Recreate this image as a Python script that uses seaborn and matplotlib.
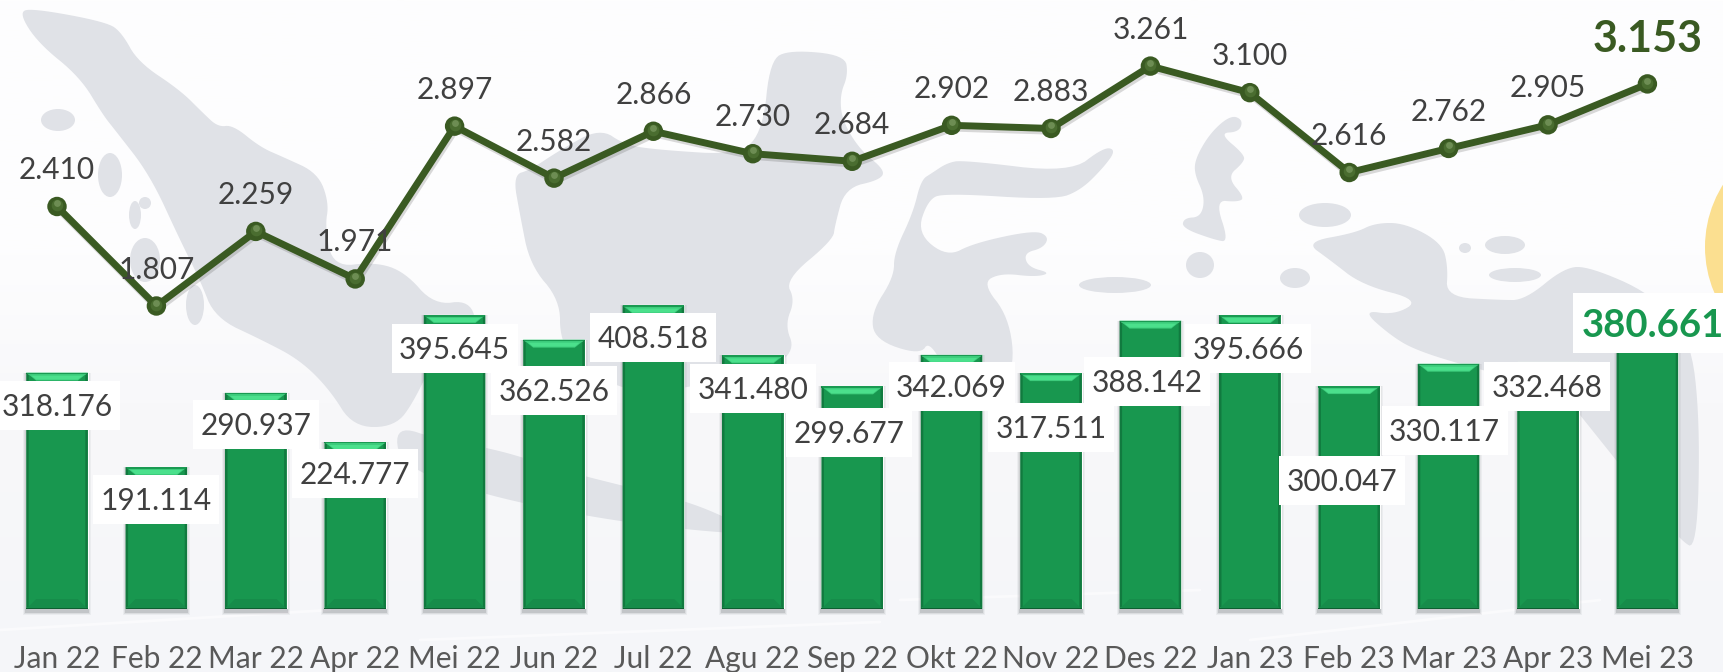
# Monthly bars with a line on top, over a pale map background

import numpy as np
import pandas as pd
import seaborn as sns
import matplotlib.pyplot as plt
from matplotlib.colors import LinearSegmentedColormap
from matplotlib.patches import Polygon, Circle, Rectangle, Ellipse
import matplotlib.patheffects as pe

months = ['Jan 22', 'Feb 22', 'Mar 22', 'Apr 22', 'Mei 22', 'Jun 22', 'Jul 22', 'Agu 22', 'Sep 22',
          'Okt 22', 'Nov 22', 'Des 22', 'Jan 23', 'Feb 23', 'Mar 23', 'Apr 23', 'Mei 23']
barValues = [318176, 191114, 290937, 224777, 395645, 362526, 408518, 341480, 299677,
             342069, 317511, 388142, 395666, 300047, 330117, 332468, 380661]
lineValues = [2410, 1807, 2259, 1971, 2897, 2582, 2866, 2730, 2684,
              2902, 2883, 3261, 3100, 2616, 2762, 2905, 3153]

# label shifts from the bar top, in pixels
barLabelDown = [33, 32, 32, 32, 33, 51, 32, 33, 46, 32, 54, 61, 33, 94, 67, 25, -3]
barLabelRight = [0, 0, 0, 0, 0, 0, 0, 0, -3, 0, 0, -3, -2, -7, -4, -1, 5]

# background shapes, in pixels of the picture
sumatra = [(19,13),(31,8),(107,22),(122,33),(138,62),(180,90),(203,113),(218,127),(233,125),(260,147),(283,157),
           (318,173),(329,203),(325,227),(333,267),(375,262),(405,272),(434,305),(470,300),(478,330),(440,345),(415,400),
           (395,427),(353,427),(330,390),(300,360),(262,340),(215,318),(200,280),(180,240),(150,175),(115,130),
           (103,115),(80,77),(38,43)]
java = [(395,425),(440,440),(500,450),(560,470),(640,490),(700,505),(760,535),(690,530),(610,520),(530,505),(470,490),(400,465)]
kalimantan = [(513,175),(530,170),(560,150),(600,128),(625,145),(660,150),(740,155),(763,130),(770,60),(790,50),(845,55),
              (848,75),(840,95),(842,120),(860,150),(885,170),(880,180),(845,188),(835,225),(833,240),(785,280),(795,300),(785,325),
              (795,350),(770,370),(700,385),(640,395),(580,370),(560,340),(560,300),(530,265),(520,215)]
sulawesi = [(947,163),(963,160),(1070,173),(1104,147),(1116,150),(1104,167),(1081,190),(1055,200),(944,193),(928,200),(917,233),
            (947,257),(974,243),(1035,230),(1049,237),(1043,248),(1024,253),(1028,267),(1051,273),(1035,277),(1001,273),(982,283),
            (1009,317),(1015,370),(990,405),(955,390),(930,340),(920,355),(875,340),(871,313),(894,277),(894,253),(913,213),(921,180),(932,173)]
halmahera = [(1231,115),(1243,120),(1239,132),(1219,133),(1245,155),(1243,163),(1227,177),(1245,198),(1237,202),(1215,200),
             (1229,242),(1215,240),(1182,228),(1184,218),(1201,217),(1205,197),(1194,173),(1196,157),(1211,132)]
papua = [(1305,242),(1355,233),(1375,223),(1405,223),(1442,243),(1448,267),(1446,297),(1500,300),(1525,300),(1565,267),(1590,267),
         (1650,293),(1690,335),(1700,420),(1697,550),(1680,540),(1640,490),(1600,440),(1560,390),(1470,367),(1415,350),(1390,335),
         (1362,310),(1395,315),(1420,300),(1362,285),(1330,260)]
islands = [(1325,215,26,12),(1200,265,14,13),(1295,278,15,10),(1465,248,6,5),(1505,245,20,9),(1515,275,26,7),
           (58,120,17,11),(110,175,12,22),(135,215,6,14),(145,203,6,6),(145,260,15,22),(195,305,9,20),(1115,285,36,8)]

sns.set_theme(style='white', rc={'axes.facecolor': 'none', 'figure.facecolor': 'white'})
plt.rcParams['font.family'] = ['Lato', 'DejaVu Sans']

W, H = 1724, 672
baseY = 609
barScale = 0.000743     # pixels per bar unit
lineScale = 0.165       # pixels per line unit
step = 99.4
firstX = 57
mapColor = '#e0e2e7'


def smooth(points, rounds=3):
  # corner cutting, so the coast does not look like straight pieces
  pts = np.array(points, dtype=float)
  for _ in range(rounds):
    nxt = np.roll(pts, -1, axis=0)
    pts = np.column_stack([0.75 * pts + 0.25 * nxt, 0.25 * pts + 0.75 * nxt]).reshape(-1, 2)
  return pts


fig = plt.figure(figsize=(W / 100, H / 100), dpi=100)

# background
bg = fig.add_axes([0, 0, 1, 1], zorder=0)
bg.set_xlim(0, W)
bg.set_ylim(H, 0)
bg.axis('off')
grad = np.linspace(0, 1, 256).reshape(-1, 1)
cmap = LinearSegmentedColormap.from_list('bgc', [(0, '#fefefe'), (0.38, '#fdfdfe'), (0.6, '#f8f8fa'), (1, '#f5f6f9')])
bg.imshow(grad, extent=[0, W, H, 0], aspect='auto', cmap=cmap, zorder=0)
for shape in [sumatra, java, kalimantan, sulawesi, halmahera, papua]:
  bg.add_patch(Polygon(smooth(shape), closed=True, fc=mapColor, ec='none', zorder=1))
for cx, cy, rx, ry in islands:
  bg.add_patch(Ellipse((cx, cy), rx * 2, ry * 2, fc=mapColor, ec='none', zorder=1))
bg.add_patch(Circle((1822, 247), 117, fc='#fbdf90', ec='none', zorder=1))
for x0, y0, x1, y1 in [(0, 630, 330, 610), (420, 640, 880, 622), (900, 600, 1200, 590), (1250, 640, 1600, 600)]:
  bg.plot([x0, x1], [y0, y1], color='white', lw=2, alpha=0.5, zorder=2)

# bars
ax = fig.add_axes([0, 1 - baseY / H, 1, baseY / H], zorder=1)
barData = pd.DataFrame({'month': months, 'value': barValues})
sns.barplot(data=barData, x='month', y='value', color='#18974f', saturation=1, width=0.62, ax=ax, zorder=3)
ax.set_xlim(-firstX / step, (W - firstX) / step)
ax.set_ylim(0, baseY / barScale)
ax.set_xlabel('')
ax.set_ylabel('')
ax.set_yticks([])
ax.tick_params(axis='x', length=0, pad=26, labelsize=21.5, labelcolor='#595959')
for s in ax.spines.values():
  s.set_visible(False)

dx = 1 / step
dy = 1 / barScale
for bar in ax.patches:
  x0, w, h = bar.get_x(), bar.get_width(), bar.get_height()
  x1 = x0 + w
  # soft shadow round the bar
  for grow, alpha in [(3, 0.05), (2, 0.08), (1, 0.14)]:
    ax.add_patch(Rectangle((x0 - grow * dx, -(grow + 3) * dy), w + 2 * grow * dx, h + (grow + 3) * dy, fc='#30343a', ec='none',
                           alpha=alpha, zorder=2, clip_on=False))
  # bevels
  ax.add_patch(Polygon([(x0, h), (x1, h), (x1 - 10 * dx, h - 8 * dy), (x0 + 10 * dx, h - 8 * dy)], fc='#3ccb7b', ec='none', zorder=4))
  ax.add_patch(Polygon([(x0 + 5 * dx, h - 3 * dy), (x1 - 5 * dx, h - 3 * dy), (x1 - 10 * dx, h - 7 * dy), (x0 + 10 * dx, h - 7 * dy)],
                       fc='#4be08c', ec='none', zorder=4))
  ax.add_patch(Rectangle((x0, h - 1.5 * dy), w, 1.5 * dy, fc='#1a9a52', ec='none', zorder=4))
  ax.add_patch(Polygon([(x0, 0), (x1, 0), (x1 - 10 * dx, 10 * dy), (x0 + 10 * dx, 10 * dy)], fc='#168c4a', ec='none', zorder=4))
  ax.add_patch(Polygon([(x0, 0), (x0 + 2.5 * dx, 2.5 * dy), (x0 + 2.5 * dx, h - 2.5 * dy), (x0, h)], fc='#117a3f', ec='none', zorder=4))
  ax.add_patch(Polygon([(x1, 0), (x1 - 2.5 * dx, 2.5 * dy), (x1 - 2.5 * dx, h - 2.5 * dy), (x1, h)], fc='#117a3f', ec='none', zorder=4))
  ax.add_patch(Rectangle((x0, 0), w, 1.5 * dy, fc='#0e5f32', ec='none', zorder=4))

# white boxes under the bar labels, the text goes on its baseline so digits sit in the middle
for i, v in enumerate(barValues):
  last = i == len(barValues) - 1
  halfW, halfH, digit = (79, 30, 13.5) if last else (63, 24.5, 10.5)
  cx = i + barLabelRight[i] * dx
  cy = v - barLabelDown[i] * dy
  ax.add_patch(Rectangle((cx - halfW * dx, cy - halfH * dy), 2 * halfW * dx, 2 * halfH * dy, fc='white', ec='none', zorder=5, clip_on=False))
  ax.annotate(f'{v:,}'.replace(',', '.'), (cx, cy), xytext=(0, -digit), textcoords='offset pixels',
              ha='center', va='baseline', fontsize=27.5 if last else 21.5, fontweight='bold' if last else 'normal',
              color='#18974f' if last else '#404040', zorder=6, annotation_clip=False)

# line
ax2 = ax.twinx()
ax2.set_zorder(2)
ax2.patch.set_visible(False)
lineData = pd.DataFrame({'month': months, 'value': lineValues})
sns.lineplot(data=lineData, x='month', y='value', sort=False, color='#3a5a22', linewidth=5, marker='o', markersize=14,
             markeredgewidth=0, ax=ax2, zorder=3,
             path_effects=[pe.SimpleLineShadow(offset=(1, -2), shadow_color='#555555', alpha=0.22), pe.Normal()])
ax2.set_ylim(1807 - (baseY - 306) / lineScale, 1807 + 306 / lineScale)
ax2.set_xlim(ax.get_xlim())
ax2.set_yticks([])
ax2.set_ylabel('')
ax2.set_xlabel('')
ax2.grid(False)
for s in ax2.spines.values():
  s.set_visible(False)

# highlight on the round markers
xs = np.arange(len(months))
ax2.scatter(xs, np.array(lineValues) + 8, s=70, color='#4f7334', linewidths=0, zorder=4, alpha=0.8)
ax2.scatter(xs, np.array(lineValues) + 20, s=24, color='#7d9c63', linewidths=0, zorder=5, alpha=0.7)

for i, v in enumerate(lineValues):
  last = i == len(lineValues) - 1
  ax2.annotate(f'{v:,}'.replace(',', '.'), (i, v), xytext=(0, 32 if last else 27.5), textcoords='offset pixels',
               ha='center', va='baseline', fontsize=31 if last else 21.5, fontweight='bold' if last else 'normal',
               color='#3a5a22' if last else '#404040', zorder=6, annotation_clip=False)

fig.savefig('out.png', dpi=100)
